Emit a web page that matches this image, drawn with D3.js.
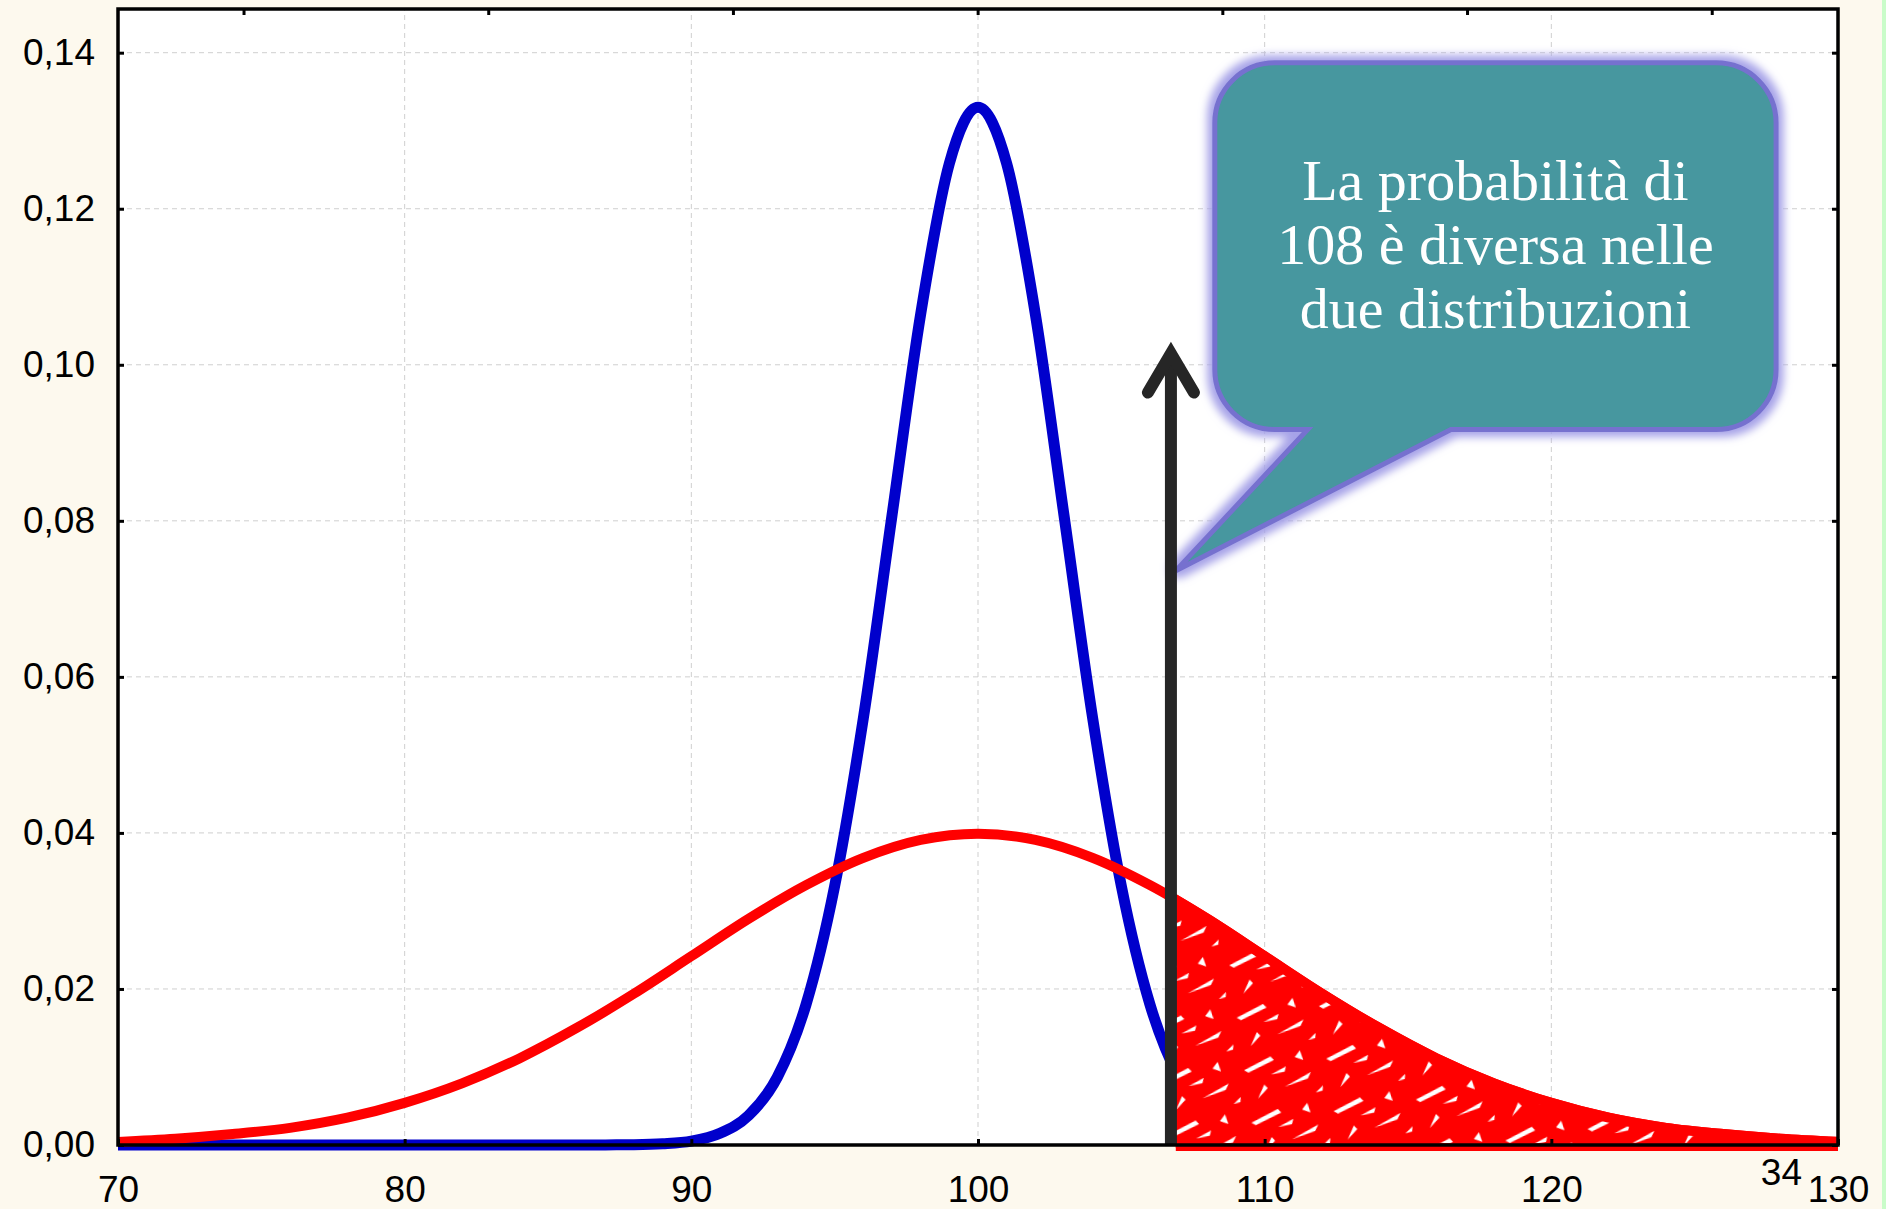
<!DOCTYPE html>
<html>
<head>
<meta charset="utf-8">
<script src="https://cdn.jsdelivr.net/npm/d3@7"></script>
<style>
  body { margin: 0; background: #fdf9ee; }
  svg { display: block; }
</style>
</head>
<body>
<svg id="chart" width="1886" height="1209"></svg>
<script>
// tick values
const xTicks = [70, 80, 90, 100, 110, 120, 130];
const yTicks = [0, 0.02, 0.04, 0.06, 0.08, 0.10, 0.12, 0.14];
const topTicks = [-3, -2, -1, 0, 1, 2, 3];

// blue curve (narrow distribution)
const blueX = [70, 86, 87, 88, 89, 90, 91, 92, 93, 94, 95, 96, 97, 98, 99, 100,
  101, 102, 103, 104, 105, 106, 107, 108, 109, 110, 111, 112, 113, 114, 130];
const blueY = [0, 0, 0.00001, 0.00004, 0.00016, 0.0005, 0.0015, 0.0038, 0.0087, 0.018, 0.0332, 0.0547, 0.0807, 0.1065, 0.1258, 0.133,
  0.1258, 0.1065, 0.0807, 0.0547, 0.0332, 0.018, 0.0087, 0.0038, 0.0015, 0.0005, 0.00016, 0.00004, 0.00001, 0, 0];

// red curve (wide distribution)
const redX = [70, 72, 74, 76, 78, 80, 82, 84, 86, 88, 90, 92, 94, 96, 98, 100,
  102, 104, 106, 108, 110, 112, 114, 116, 118, 120, 122, 124, 126, 128, 130];
const redY = [0.0004, 0.0008, 0.0014, 0.0022, 0.0035, 0.0054, 0.0079, 0.0111, 0.015, 0.0194, 0.0242, 0.029, 0.0333, 0.0368, 0.0391, 0.0399,
  0.0391, 0.0368, 0.0333, 0.029, 0.0242, 0.0194, 0.015, 0.0111, 0.0079, 0.0054, 0.0035, 0.0022, 0.0014, 0.0008, 0.0004];

// arrow & shading
const arrowX = 106.73;
const arrowTop = 0.1026;
const shadeFrom = 106.9;

// callout (in data units)
const callout = { left: 108.26, right: 127.84, top: 0.1387, bottom: 0.0917,
  tailA: 111.5, tailB: 116.5, tipX: 106.9, tipY: 0.0736 };
const calloutLines = ["La probabilità di", "108 è diversa nelle", "due distribuzioni"];
const pageNumber = "34";

const svg = d3.select("#chart");
const W = 1886, H = 1209;

const x = d3.scaleLinear().domain([70, 130]).range([118, 1838]);
const y = d3.scaleLinear().domain([0, 0.1456]).range([1145, 9]);
const xTop = d3.scaleLinear().domain([-3.513, 3.516]).range([118, 1838]);

const locale = d3.formatLocale({ decimal: ",", thousands: ".", grouping: [3], currency: ["", "€"] });
const fmtY = locale.format(".2f");

// page background
svg.append("rect").attr("width", W).attr("height", H).attr("fill", "#fdf9ee");
svg.append("rect").attr("x", 1882).attr("width", 4).attr("height", H).attr("fill", "#c9fcc9");

const defs = svg.append("defs");
defs.append("clipPath").attr("id", "shadeClip")
  .append("rect")
  .attr("x", x(shadeFrom)).attr("y", 0)
  .attr("width", x(130) - x(shadeFrom)).attr("height", y(0) + 6);

// scribbled red fill: red with white slivers
const pat = defs.append("pattern").attr("id", "scribble")
  .attr("patternUnits", "userSpaceOnUse").attr("width", 83).attr("height", 53)
  .attr("patternTransform", "rotate(-8)");
pat.append("rect").attr("width", 83).attr("height", 53).attr("fill", "#ff0000");
[
  "M4,14 L32,4 L35,8 L8,17 Z",
  "M42,36 L70,25 L66,31 Z",
  "M14,44 L22,31 L25,35 Z",
  "M56,8 L62,2 L64,12 Z",
  "M30,22 L46,16 L44,21 Z",
  "M72,46 L80,40 L79,45 Z"
].forEach(d => pat.append("path").attr("d", d).attr("fill", "#fff"));

const glow = defs.append("filter").attr("id", "glow")
  .attr("x", "-20%").attr("y", "-20%").attr("width", "140%").attr("height", "140%");
glow.append("feMorphology").attr("in", "SourceAlpha").attr("operator", "dilate").attr("radius", 5).attr("result", "d");
glow.append("feGaussianBlur").attr("in", "d").attr("stdDeviation", 4).attr("result", "b");
glow.append("feFlood").attr("flood-color", "#a6a2e8");
glow.append("feComposite").attr("in2", "b").attr("operator", "in").attr("result", "g");
const merge = glow.append("feMerge");
merge.append("feMergeNode").attr("in", "g");
merge.append("feMergeNode").attr("in", "SourceGraphic");

// plot area
svg.append("rect")
  .attr("x", x(70)).attr("y", y(0.1456))
  .attr("width", x(130) - x(70)).attr("height", y(0) - y(0.1456))
  .attr("fill", "#fff");

// grid
const grid = svg.append("g").attr("stroke", "#cfcfcf").attr("stroke-width", 1).attr("stroke-dasharray", "5,4");
grid.selectAll(".vg").data(xTicks.slice(1, -1)).enter().append("line")
  .attr("x1", d => x(d)).attr("x2", d => x(d))
  .attr("y1", y(0)).attr("y2", y(0.1456));
grid.selectAll(".hg").data(yTicks.slice(1)).enter().append("line")
  .attr("x1", x(70)).attr("x2", x(130))
  .attr("y1", d => y(d)).attr("y2", d => y(d));

const blue = blueX.map((v, i) => ({ x: v, y: blueY[i] }));
const red = redX.map((v, i) => ({ x: v, y: redY[i] }));

const line = d3.line().x(d => x(d.x)).y(d => y(d.y)).curve(d3.curveMonotoneX);

svg.append("path").datum(blue)
  .attr("d", line).attr("fill", "none")
  .attr("stroke", "#0000cc").attr("stroke-width", 11).attr("stroke-linejoin", "round");

svg.append("path").datum(red)
  .attr("d", line).attr("fill", "none")
  .attr("stroke", "#ff0000").attr("stroke-width", 10).attr("stroke-linejoin", "round");

// red scribbled tail area
const area = d3.area().x(d => x(d.x)).y0(y(0) + 3).y1(d => y(d.y)).curve(d3.curveMonotoneX);
svg.append("path").datum(red)
  .attr("clip-path", "url(#shadeClip)")
  .attr("d", area)
  .attr("fill", "url(#scribble)")
  .attr("stroke", "#ff0000").attr("stroke-width", 10);

// callout bubble
const cl = x(callout.left), cr = x(callout.right), ct = y(callout.top), cb = y(callout.bottom);
const r = 60;
const bubble = d3.path();
bubble.moveTo(cl + r, ct);
bubble.lineTo(cr - r, ct);
bubble.arcTo(cr, ct, cr, ct + r, r);
bubble.lineTo(cr, cb - r);
bubble.arcTo(cr, cb, cr - r, cb, r);
bubble.lineTo(x(callout.tailB), cb);
bubble.lineTo(x(callout.tipX), y(callout.tipY));
bubble.lineTo(x(callout.tailA), cb);
bubble.lineTo(cl + r, cb);
bubble.arcTo(cl, cb, cl, cb - r, r);
bubble.lineTo(cl, ct + r);
bubble.arcTo(cl, ct, cl + r, ct, r);
bubble.closePath();

svg.append("path")
  .attr("d", bubble.toString())
  .attr("fill", "#46979f")
  .attr("stroke", "#7671cf").attr("stroke-width", 5)
  .attr("stroke-linejoin", "miter")
  .attr("filter", "url(#glow)");

svg.append("g").selectAll("text").data(calloutLines).enter().append("text")
  .attr("x", (cl + cr) / 2)
  .attr("y", (d, i) => ct + 137 + i * 64)
  .attr("text-anchor", "middle")
  .attr("font-family", "'Liberation Serif', 'DejaVu Serif', serif")
  .attr("font-size", 58)
  .attr("fill", "#fff")
  .text(d => d);

// arrow
const ax = x(arrowX);
svg.append("line")
  .attr("x1", ax).attr("x2", ax)
  .attr("y1", y(0)).attr("y2", y(arrowTop) + 8)
  .attr("stroke", "#262626").attr("stroke-width", 12);
svg.append("path")
  .attr("d", `M${ax - 23},${y(arrowTop) + 48} L${ax},${y(arrowTop) + 9} L${ax + 23},${y(arrowTop) + 48}`)
  .attr("fill", "none")
  .attr("stroke", "#262626").attr("stroke-width", 12)
  .attr("stroke-linecap", "round").attr("stroke-linejoin", "miter");

// axes (ticks pointing inward)
const fontAxis = "'Liberation Sans', Arial, sans-serif";

const gx = svg.append("g").attr("transform", `translate(0,${y(0)})`)
  .call(d3.axisBottom(x).tickValues(xTicks).tickSize(-6).tickPadding(31).tickFormat(d3.format("d")));
const gy = svg.append("g").attr("transform", `translate(${x(70)},0)`)
  .call(d3.axisLeft(y).tickValues(yTicks).tickSize(-6).tickPadding(23).tickFormat(fmtY));
const gr = svg.append("g").attr("transform", `translate(${x(130)},0)`)
  .call(d3.axisRight(y).tickValues(yTicks).tickSize(-6).tickFormat(""));
const gt = svg.append("g").attr("transform", `translate(0,${y(0.1456)})`)
  .call(d3.axisTop(xTop).tickValues(topTicks).tickSize(-6).tickFormat(""));

[gx, gy, gr, gt].forEach(g => {
  g.select(".domain").remove();
  g.selectAll(".tick line").attr("stroke", "#000").attr("stroke-width", 3);
  g.selectAll("text").attr("font-family", fontAxis).attr("font-size", 37).attr("fill", "#000");
});
gy.selectAll("text").attr("dy", "0.32em");

// frame
svg.append("rect")
  .attr("x", x(70)).attr("y", y(0.1456))
  .attr("width", x(130) - x(70)).attr("height", y(0) - y(0.1456))
  .attr("fill", "none").attr("stroke", "#000").attr("stroke-width", 3.5);

// stray page number next to the last label
svg.append("text")
  .attr("x", x(130) - 36).attr("y", y(0) + 40)
  .attr("text-anchor", "end")
  .attr("font-family", fontAxis).attr("font-size", 37)
  .text(pageNumber);
</script>
</body>
</html>
